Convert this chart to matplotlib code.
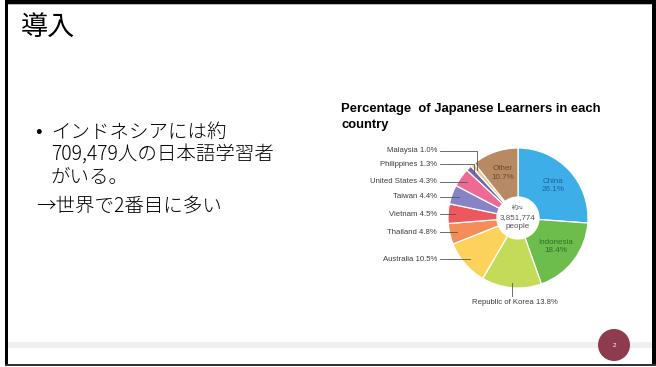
import numpy as np
import matplotlib
matplotlib.use("Agg")
import matplotlib.pyplot as plt
from matplotlib.patches import Rectangle, Circle

# ---- data ----
countries = ["China", "Indonesia", "Republic of Korea", "Australia", "Thailand",
             "Vietnam", "Taiwan", "United States", "Philippines", "Malaysia", "Other"]
shares = [26.1, 18.4, 13.8, 10.5, 4.8, 4.5, 4.4, 4.3, 1.3, 1.0, 10.7]
colors = ["#3DAEE8", "#6CBD4C", "#C4DB5A", "#FDD25B", "#F58D5B", "#EC585E",
          "#8783C5", "#EE6993", "#6F68A8", "#F4C48E", "#B88A64"]
total_label = ["約≈", "3,851,774", "people"]
chart_title = "Percentage  of Japanese Learners in each\ncountry"
slide_title = "導入"
bullet_lines = ["インドネシアには約", "709,479人の日本語学習者", "がいる。"]
arrow_line = "→世界で2番目に多い"
page_no = "2"

W, H = 656, 367
fig = plt.figure(figsize=(W / 100, H / 100), dpi=100)

# background axes in image pixel coords
bg = fig.add_axes([0, 0, 1, 1])
bg.set_xlim(0, W); bg.set_ylim(H, 0); bg.axis("off")
bg.add_patch(Rectangle((8, 342), 644, 6, color="#EFEFEF", lw=0))
bg.add_patch(Rectangle((5, 0), 651, 4, color="black", lw=0))
bg.add_patch(Rectangle((8, 4), 644, 1.2, color="#BBBBBB", lw=0))
bg.add_patch(Rectangle((5, 0), 3, 366, color="black", lw=0))
bg.add_patch(Rectangle((652, 0), 4, 366, color="black", lw=0))
bg.add_patch(Rectangle((5, 363.5), 651, 2.5, color="#333333", lw=0))
bg.add_patch(Circle((614, 345), 16, color="#8E3B4E", lw=0))
bg.text(614, 345.5, page_no, color="white", fontsize=4.5, ha="center", va="center",
        family="Liberation Sans")

jp = ["Noto Sans CJK JP", "DejaVu Sans"]
bg.text(21, 27, slide_title, fontsize=19.5, family=jp, va="center", ha="left")
bg.text(35, 132, "•", fontsize=14, family=jp, va="center", ha="left")
for i, s in enumerate(bullet_lines):
    bg.text(51, 132 + 23 * i, s, fontsize=14, family=jp, va="center", ha="left",
            weight="light")
bg.text(36, 207, arrow_line, fontsize=14, family=jp, va="center", ha="left", weight="light")

bg.text(341, 117, chart_title, fontsize=9.4, family="Liberation Sans",
        weight="bold", va="center", ha="left", linespacing=1.45)

# pie axes
cx, cy, R = 518, 218, 70
pax = fig.add_axes([(cx - R) / W, (H - cy - R) / H, 2 * R / W, 2 * R / H])
pax.pie(shares, colors=colors, startangle=90, counterclock=False, radius=1,
        wedgeprops=dict(width=0.7, edgecolor="white", linewidth=0.9))
pax.set_xlim(-1, 1); pax.set_ylim(-1, 1); pax.set_aspect("equal"); pax.axis("off")

# overlay for labels and leaders
ov = fig.add_axes([0, 0, 1, 1])
ov.set_xlim(0, W); ov.set_ylim(H, 0); ov.axis("off"); ov.patch.set_visible(False)

cum = np.concatenate([[0], np.cumsum(shares)])
tot = sum(shares)
def pt(i, frac):
    a = np.deg2rad((cum[i] + shares[i] / 2) / tot * 360)
    return cx + frac * R * np.sin(a), cy - frac * R * np.cos(a)

lf = dict(fontsize=5.6, family="Liberation Sans", color="#3C3C3C")
lc = "#555555"
# inside labels
inside = {0: "#1F62A3", 1: "#2C7228", 10: "#6B4A2E"}
for i, col in inside.items():
    x, y = pt(i, 0.68)
    ov.text(x, y, f"{countries[i]}\n{shares[i]}%", ha="center", va="center",
            fontsize=5.8, family="Liberation Sans", color=col, linespacing=1.25)

# left labels with horizontal leaders
for i in [3, 4, 5, 6, 7]:
    x, y = pt(i, 0.9)
    ov.plot([440, x], [y, y], color=lc, lw=0.6)
    ov.text(437, y, f"{countries[i]} {shares[i]}%", ha="right", va="center", **lf)
for i, ly in [(8, 164), (9, 151)]:
    x, y = pt(i, 0.9)
    ov.plot([440, x, x], [ly, ly, y], color=lc, lw=0.6)
    ov.text(437, ly, f"{countries[i]} {shares[i]}%", ha="right", va="center", **lf)
# Korea below
x, y = pt(2, 0.93)
ov.plot([x, x], [y, 296], color=lc, lw=0.6)
ov.text(x + 3, 302, f"{countries[2]} {shares[2]}%", ha="center", va="center", **lf)

# center text
ov.text(cx, 208, total_label[0], ha="center", va="center", fontsize=4.5,
        family=jp, color="#555555")
ov.text(cx, 218, total_label[1], ha="center", va="center", fontsize=5.8,
        family="Liberation Sans", color="#555555")
ov.text(cx, 226.5, total_label[2], ha="center", va="center", fontsize=5.8,
        family="Liberation Sans", color="#555555")

fig.savefig("out.png", dpi=100)
